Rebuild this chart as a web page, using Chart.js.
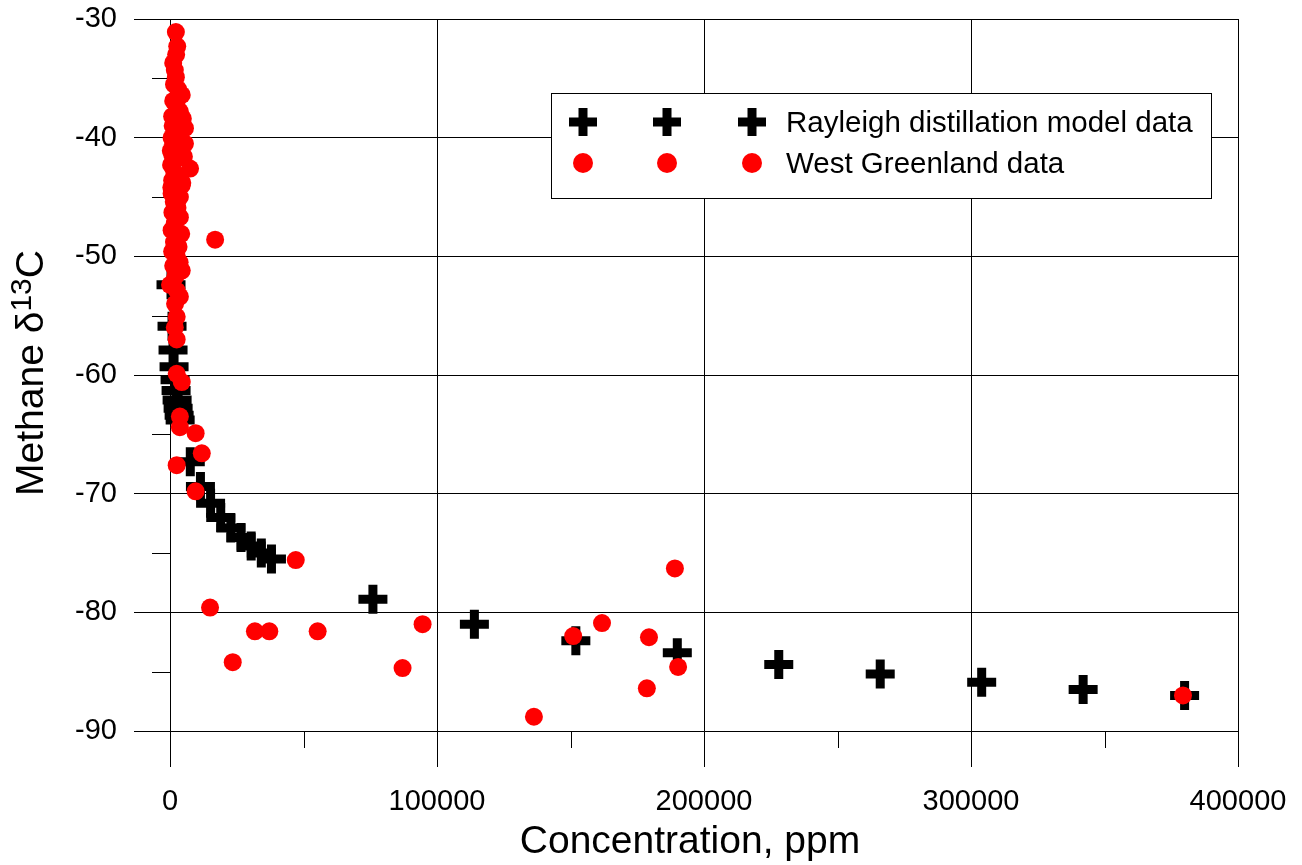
<!DOCTYPE html>
<html>
<head>
<meta charset="utf-8">
<title>Methane d13C vs concentration</title>
<script src="https://cdn.jsdelivr.net/npm/chart.js@4.4.1/dist/chart.umd.min.js"></script>
<style>
  html, body { margin: 0; padding: 0; background: #fff; }
  #wrap { width: 1302px; height: 865px; }
</style>
</head>
<body>
<div id="wrap"><canvas id="chart" width="1302" height="865"></canvas></div>
<script>
// Rayleigh distillation model (crosses)
const modelX = [380, 760, 1140, 1520, 1900, 2280, 2660, 3040, 3420, 3800,
  7600, 11400, 15200, 19000, 22800, 26600, 30400, 34200, 38000,
  76000, 114000, 152000, 190000, 228000, 266000, 304000, 342000, 380000];
const modelY = [-52.4, -55.9, -57.9, -59.3, -60.4, -61.3, -62.1, -62.8, -63.4, -63.8,
  -67.3, -69.4, -70.8, -72.0, -72.9, -73.7, -74.4, -75.0, -75.5,
  -78.9, -81.0, -82.4, -83.4, -84.4, -85.2, -85.9, -86.5, -87.0];

// West Greenland measurements (red dots)
const greenlandX = [2200, 2700, 2300, 1200, 1800, 2200, 1500, 3000, 4400, 1200,
  2500, 3700, 800, 2000, 1000, 5600, 2800, 600, 1200, 5600,
  3000, 800, 2200, 400, 7500, 1600, 3200, 800, 4400, 2000,
  600, 3700, 1400, 2800, 900, 3700, 1800, 600, 2800, 1500,
  3200, 800, 2500, 3600, 1200, 4400, 2000, 0, 2600, 3700,
  1900, 2500, 1800, 2500, 2500, 4400, 3700, 3700,
  4800, 5200, 4600, 500, 300, 4200,
  16900, 9600, 11900, 2500, 9600, 15000, 23500, 31800, 37200, 47100,
  55300, 87100, 94600, 136300, 151000, 161800, 179400, 178600, 189100, 190300,
  379400];
const greenlandY = [-31.1, -32.3, -33.0, -33.7, -34.3, -34.9, -35.5, -35.9, -36.4, -36.9,
  -37.3, -37.8, -38.2, -38.6, -39.0, -39.2, -39.6, -40.0, -40.5, -40.5,
  -41.0, -41.4, -41.8, -42.3, -42.6, -42.9, -43.3, -43.6, -44.0, -44.4,
  -44.7, -45.0, -45.4, -45.9, -46.3, -46.7, -47.2, -47.8, -48.2, -48.8,
  -49.2, -49.6, -50.0, -50.5, -50.8, -51.2, -51.7, -52.4, -52.9, -53.4,
  -54.0, -55.1, -56.0, -57.0, -59.9, -60.6, -63.5, -64.4,
  -38.4, -41.6, -43.8, -44.2, -41.1, -48.1,
  -48.6, -64.9, -66.6, -67.6, -69.8, -79.6, -84.2, -81.6, -81.6, -75.6,
  -81.6, -84.7, -81.0, -88.8, -82.0, -80.9, -82.1, -86.4, -76.3, -84.6,
  -87.0];

const xMinorTicks = [50000, 150000, 250000, 350000];
const yMinorTicks = [-35, -45, -55, -65, -75, -85];

const seriesNames = ['Rayleigh distillation model data', 'West Greenland data'];
const xTitle = 'Concentration, ppm';

const FONT = '"Liberation Sans", Arial, Helvetica, sans-serif';

function toPoints(xs, ys) {
  return xs.map((x, i) => ({ x: x, y: ys[i] }));
}

// minor tick marks outside the plot area
const minorTicks = {
  id: 'minorTicks',
  beforeDatasetsDraw(chart) {
    const { ctx, chartArea, scales } = chart;
    ctx.save();
    ctx.strokeStyle = '#000';
    ctx.lineWidth = 1;
    ctx.beginPath();
    xMinorTicks.forEach(v => {
      const px = Math.round(scales.x.getPixelForValue(v)) + 0.5;
      ctx.moveTo(px, chartArea.bottom);
      ctx.lineTo(px, chartArea.bottom + 17);
    });
    yMinorTicks.forEach(v => {
      const py = Math.round(scales.y.getPixelForValue(v)) + 0.5;
      ctx.moveTo(chartArea.left - 18, py);
      ctx.lineTo(chartArea.left, py);
    });
    ctx.stroke();
    ctx.restore();
  }
};

function drawCross(ctx, x, y, r, w) {
  ctx.beginPath();
  ctx.lineWidth = w;
  ctx.strokeStyle = '#000';
  ctx.moveTo(x - r, y); ctx.lineTo(x + r, y);
  ctx.moveTo(x, y - r); ctx.lineTo(x, y + r);
  ctx.stroke();
}

function drawDot(ctx, x, y, r) {
  ctx.beginPath();
  ctx.fillStyle = '#ff0000';
  ctx.arc(x, y, r, 0, Math.PI * 2);
  ctx.fill();
}

// boxed legend with three markers per row, axis titles
const decorations = {
  id: 'decorations',
  afterDraw(chart) {
    const ctx = chart.ctx;
    ctx.save();

    // legend box
    ctx.fillStyle = '#fff';
    ctx.fillRect(551, 93, 660, 105);
    ctx.strokeStyle = '#000';
    ctx.lineWidth = 1;
    ctx.strokeRect(551.5, 93.5, 660, 105);

    [583, 667, 752].forEach(mx => {
      drawCross(ctx, mx, 122, 14, 9);
      drawDot(ctx, mx, 163, 10);
    });
    ctx.fillStyle = '#000';
    ctx.font = '29.5px ' + FONT;
    ctx.textAlign = 'left';
    ctx.textBaseline = 'alphabetic';
    ctx.fillText(seriesNames[0], 786, 132);
    ctx.fillText(seriesNames[1], 786, 173);

    // x title
    ctx.font = '39px ' + FONT;
    ctx.textAlign = 'center';
    ctx.fillText(xTitle, 690, 853);

    // y title with superscript
    const parts = [
      { t: 'Methane \u03b4', size: 39, rise: 0 },
      { t: '13', size: 30, rise: 12 },
      { t: 'C', size: 39, rise: 0 }
    ];
    let total = 0;
    parts.forEach(p => {
      ctx.font = p.size + 'px ' + FONT;
      p.w = ctx.measureText(p.t).width;
      total += p.w;
    });
    ctx.translate(43, 373);
    ctx.rotate(-Math.PI / 2);
    ctx.textAlign = 'left';
    let cx = -total / 2;
    parts.forEach(p => {
      ctx.font = p.size + 'px ' + FONT;
      ctx.fillText(p.t, cx, -p.rise);
      cx += p.w;
    });
    ctx.restore();
  }
};

new Chart(document.getElementById('chart'), {
  type: 'scatter',
  data: {
    datasets: [
      {
        label: seriesNames[0],
        data: toPoints(modelX, modelY),
        pointStyle: 'cross',
        pointRadius: 14.5,
        pointBorderWidth: 9,
        borderColor: '#000',
        backgroundColor: '#000',
        clip: false,
        order: 2
      },
      {
        label: seriesNames[1],
        data: toPoints(greenlandX, greenlandY),
        pointStyle: 'circle',
        pointRadius: 9,
        pointBorderWidth: 0,
        borderColor: '#ff0000',
        backgroundColor: '#ff0000',
        clip: false,
        order: 1
      }
    ]
  },
  options: {
    responsive: false,
    animation: false,
    devicePixelRatio: 1,
    layout: { autoPadding: false, padding: { top: 19, right: 64, left: 0, bottom: 0 } },
    plugins: {
      legend: { display: false },
      tooltip: { enabled: false }
    },
    scales: {
      x: {
        type: 'linear',
        min: 0,
        max: 400000,
        afterFit(scale) {
          scale.height = 134;
          scale.paddingLeft = 0;
          scale.paddingRight = 0;
        },
        grid: { color: '#000', lineWidth: 1, tickLength: 36, drawTicks: true },
        border: { display: true, color: '#000', width: 1 },
        ticks: {
          stepSize: 100000,
          padding: 18,
          color: '#000',
          font: { family: FONT, size: 29 },
          callback: v => String(v)
        }
      },
      y: {
        type: 'linear',
        min: -90,
        max: -30,
        afterFit(scale) {
          scale.width = 170;
          scale.paddingTop = 0;
          scale.paddingBottom = 0;
        },
        grid: { color: '#000', lineWidth: 1, tickLength: 36, drawTicks: true },
        border: { display: true, color: '#000', width: 1 },
        ticks: {
          stepSize: 10,
          padding: 17,
          color: '#000',
          font: { family: FONT, size: 29 },
          callback: v => String(v)
        }
      }
    }
  },
  plugins: [minorTicks, decorations]
});
</script>
</body>
</html>
